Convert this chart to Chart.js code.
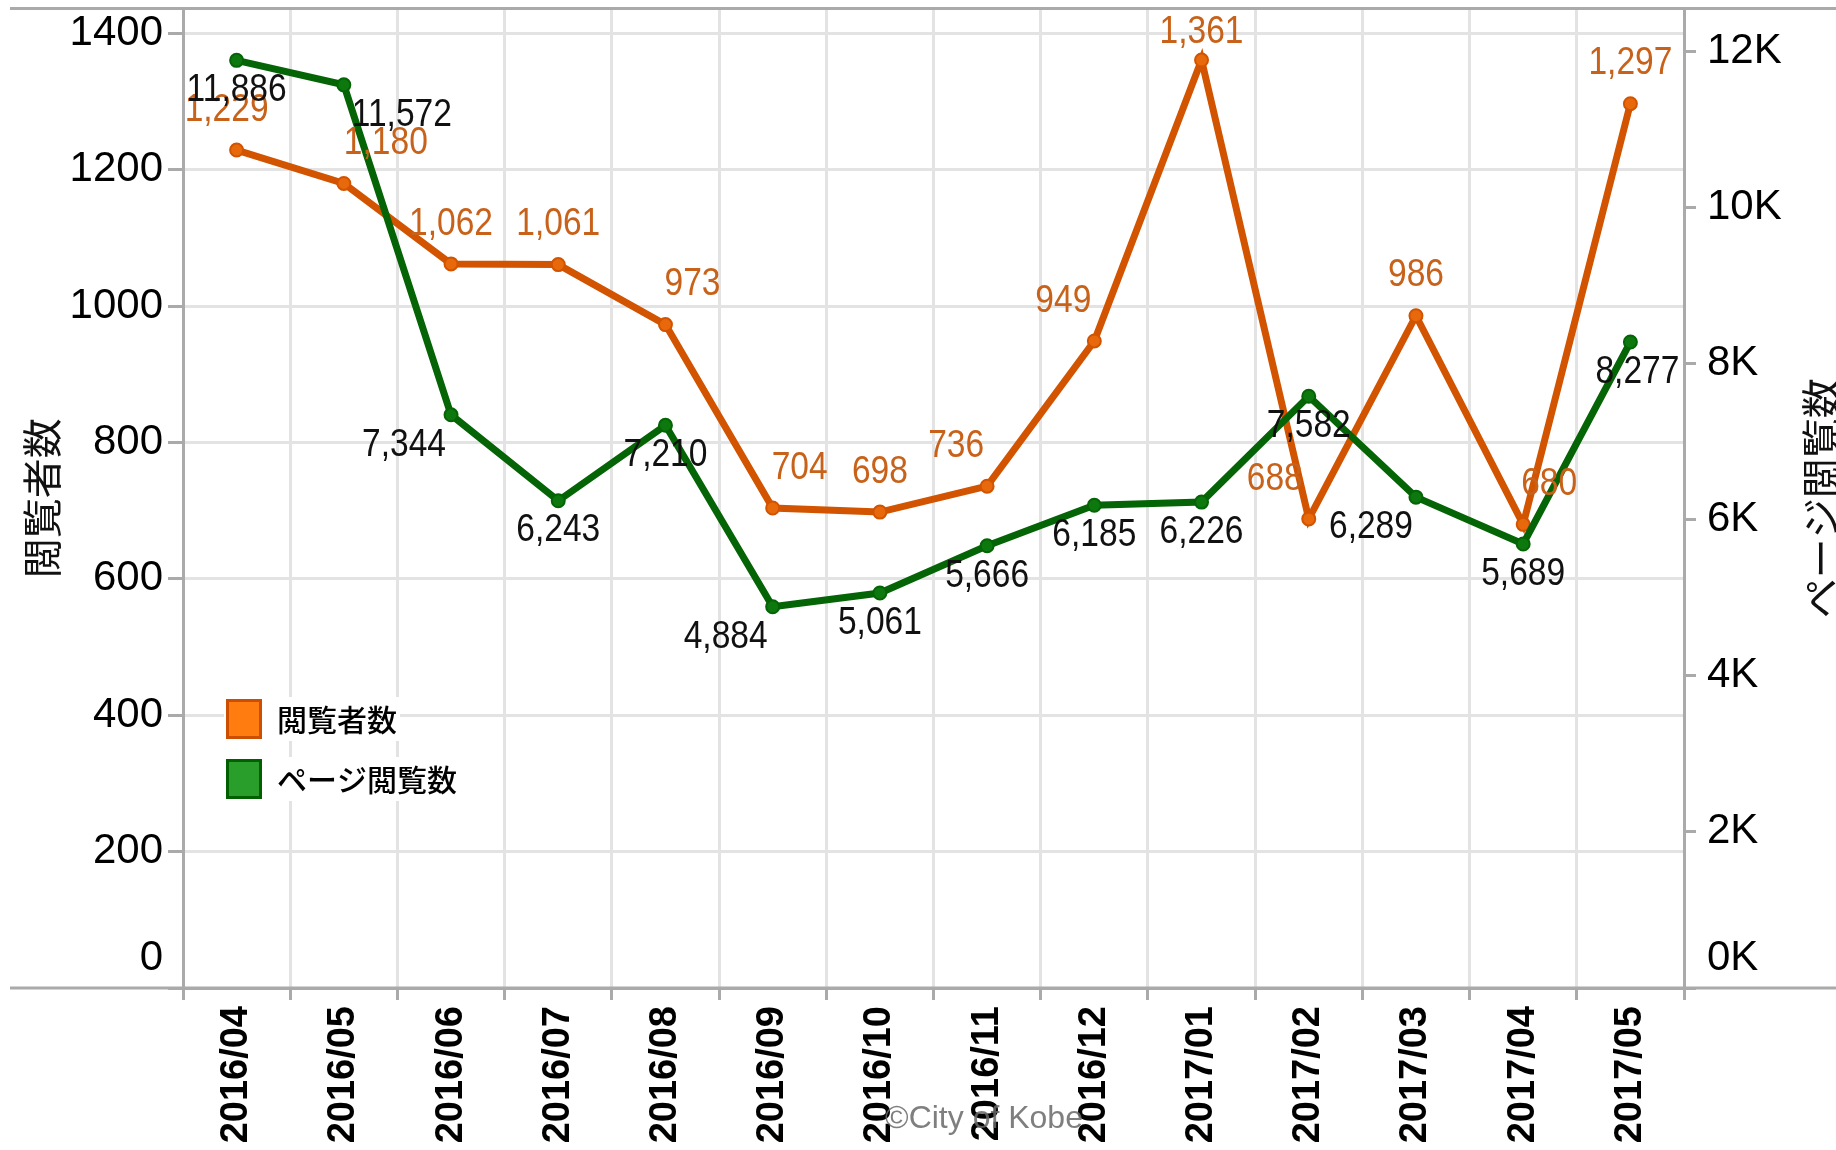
<!DOCTYPE html>
<html lang="ja">
<head>
<meta charset="utf-8">
<title>閲覧者数 / ページ閲覧数</title>
<script src="https://cdn.jsdelivr.net/npm/chart.js@4.4.1/dist/chart.umd.min.js"></script>
<style>
    html, body { margin: 0; padding: 0; background: #fff; }
    #wrap { position: relative; width: 1836px; height: 1150px; }
</style>
</head>
<body>
<div id="wrap"><canvas id="chart"></canvas></div>
<script>
// Data
const months = ['2016/04', '2016/05', '2016/06', '2016/07', '2016/08', '2016/09', '2016/10',
    '2016/11', '2016/12', '2017/01', '2017/02', '2017/03', '2017/04', '2017/05'];
const viewers = [1229, 1180, 1062, 1061, 973, 704, 698, 736, 949, 1361, 688, 986, 680, 1297];
const pageViews = [11886, 11572, 7344, 6243, 7210, 4884, 5061, 5666, 6185, 6226, 7582, 6289, 5689, 8277];
const leftTicks = [0, 200, 400, 600, 800, 1000, 1200, 1400];
const rightTicks = [0, 2000, 4000, 6000, 8000, 10000, 12000];

// Label nudges (px) so the value labels sit where the original puts them
const viewerLabelShift = [-10, 42, 0, 0, 27, 27, 0, -31, -31, 0, -34, 0, 26, 0];
const pageLabelShift = [0, 58, -47, 0, 0, -47, 0, 0, 0, 0, 0, -45, 0, 7];

// Styles
const NUM_FONT = "'Liberation Sans', Arial, sans-serif";
const JP_FONT = "'Noto Sans CJK JP', 'Noto Sans', sans-serif";
const AXIS_GRAY = '#aaaaaa';
const GRID_GRAY = '#e3e3e3';
const ORANGE = '#d25400';
const GREEN = '#056405';

const legendItems = [
    { text: '閲覧者数', fill: '#ff7c10', stroke: '#cc4e00' },
    { text: 'ページ閲覧数', fill: '#2a9e2a', stroke: '#006000' }
];

// Frame lines that run past the plot area (top edge + baseline)
const framePlugin = {
    id: 'frame',
    beforeDatasetsDraw(chart) {
        const { ctx, chartArea: a, width } = chart;
        ctx.save();
        ctx.strokeStyle = AXIS_GRAY;
        ctx.lineWidth = 3;
        ctx.beginPath();
        ctx.moveTo(10, a.top);
        ctx.lineTo(width, a.top);
        ctx.moveTo(10, a.bottom);
        ctx.lineTo(width, a.bottom);
        ctx.stroke();
        ctx.restore();
    }
};

// Value labels next to every point
const valueLabelPlugin = {
    id: 'valueLabels',
    afterDatasetsDraw(chart) {
        const { ctx, chartArea } = chart;
        const specs = [
            { index: 0, color: '#c8621a', shift: viewerLabelShift, dy: -40 },
            { index: 1, color: '#111', shift: pageLabelShift, dy: 30 }
        ];
        specs.forEach(spec => {
            const meta = chart.getDatasetMeta(spec.index);
            const values = chart.data.datasets[spec.index].data;
            ctx.save();
            ctx.font = `39px ${NUM_FONT}`;
            ctx.fillStyle = spec.color;
            ctx.textAlign = 'center';
            ctx.textBaseline = 'middle';
            meta.data.forEach((pt, i) => {
                const x = pt.x + spec.shift[i];
                const y = Math.max(pt.y + spec.dy, chartArea.top + 24);
                ctx.save();
                ctx.translate(x, y);
                ctx.scale(0.86, 1);
                ctx.fillText(values[i].toLocaleString('en-US'), 0, 0);
                ctx.restore();
            });
            ctx.restore();
        });
    }
};

// Legend, right-hand title, the lifted zero labels and the watermark
const overlayPlugin = {
    id: 'overlay',
    afterDraw(chart) {
        const { ctx, chartArea: a, scales } = chart;
        ctx.save();

        // legend inside the plot
        legendItems.forEach((item, i) => {
            const x = a.left + 43;
            const y = a.bottom - 289 + i * 60;
            ctx.font = `500 30px ${JP_FONT}`;
            const w = ctx.measureText(item.text).width;
            ctx.fillStyle = '#fff';
            ctx.fillRect(x - 2, y - 2, 56 + w, 44);
            ctx.fillStyle = item.fill;
            ctx.fillRect(x, y, 36, 40);
            ctx.strokeStyle = item.stroke;
            ctx.lineWidth = 3;
            ctx.strokeRect(x + 1.5, y + 1.5, 33, 37);
            ctx.fillStyle = '#000';
            ctx.textAlign = 'left';
            ctx.textBaseline = 'middle';
            ctx.fillText(item.text, x + 51, y + 21);
        });

        // right axis title, reads bottom to top and runs off the edge
        ctx.save();
        ctx.translate(1821, (a.top + a.bottom) / 2);
        ctx.rotate(-Math.PI / 2);
        ctx.font = `40px ${JP_FONT}`;
        ctx.fillStyle = '#111';
        ctx.textAlign = 'center';
        ctx.textBaseline = 'middle';
        ctx.fillText('ページ閲覧数', 0, 0);
        ctx.restore();

        // zero labels sit above the baseline
        ctx.font = `42px ${NUM_FONT}`;
        ctx.fillStyle = '#000';
        ctx.textBaseline = 'middle';
        const zeroY = scales.y.getPixelForValue(0) - 30;
        ctx.textAlign = 'right';
        ctx.fillText('0', scales.y.right - 20, zeroY);
        ctx.textAlign = 'left';
        ctx.fillText('0K', scales.y1.left + 23, zeroY);

        // watermark
        ctx.font = `32px ${NUM_FONT}`;
        ctx.fillStyle = 'rgba(105, 105, 105, 0.85)';
        ctx.textAlign = 'center';
        ctx.fillText('©City of Kobe', 984, 1119);

        ctx.restore();
    }
};

const ctx = document.getElementById('chart').getContext('2d');
new Chart(ctx, {
    type: 'line',
    data: {
        labels: months,
        datasets: [
            {
                label: '閲覧者数',
                data: viewers,
                yAxisID: 'y',
                order: 2,
                borderColor: ORANGE,
                backgroundColor: ORANGE,
                borderWidth: 7,
                tension: 0,
                pointRadius: 6.5,
                pointBorderWidth: 2,
                pointBackgroundColor: '#e8680c',
                pointBorderColor: ORANGE
            },
            {
                label: 'ページ閲覧数',
                data: pageViews,
                yAxisID: 'y1',
                order: 1,
                borderColor: GREEN,
                backgroundColor: GREEN,
                borderWidth: 7,
                tension: 0,
                pointRadius: 6.5,
                pointBorderWidth: 2,
                pointBackgroundColor: '#0d780d',
                pointBorderColor: GREEN
            }
        ]
    },
    options: {
        responsive: true,
        maintainAspectRatio: false,
        animation: false,
        layout: { padding: { top: 8, left: 10, right: 0, bottom: 0 } },
        plugins: {
            legend: { display: false },
            tooltip: { enabled: false }
        },
        scales: {
            x: {
                offset: true,
                grid: {
                    offset: true,
                    color: GRID_GRAY,
                    lineWidth: 3,
                    tickColor: AXIS_GRAY,
                    tickLength: 12,
                    tickWidth: 3
                },
                border: { color: AXIS_GRAY, width: 3 },
                ticks: {
                    autoSkip: false,
                    minRotation: 90,
                    maxRotation: 90,
                    padding: 6,
                    color: '#000',
                    font: { family: NUM_FONT, size: 38, weight: 'bold' }
                },
                afterFit(s) {
                    s.height = 162;
                    s.paddingLeft = 0;
                    s.paddingRight = 0;
                }
            },
            y: {
                position: 'left',
                min: 0,
                max: 1436.6,
                afterBuildTicks(s) {
                    s.ticks = leftTicks.map(v => ({ value: v }));
                },
                grid: {
                    color: GRID_GRAY,
                    lineWidth: 3,
                    tickColor: AXIS_GRAY,
                    tickLength: 15,
                    tickWidth: 3
                },
                border: { color: AXIS_GRAY, width: 3 },
                ticks: {
                    padding: 5,
                    color: '#000',
                    font: { family: NUM_FONT, size: 42 },
                    callback: v => (v === 0 ? '' : String(v))
                },
                title: {
                    display: true,
                    text: '閲覧者数',
                    color: '#111',
                    padding: { top: 8, bottom: 0 },
                    font: { family: JP_FONT, size: 40 }
                },
                afterFit(s) {
                    s.width = 173;
                    s.paddingTop = 0;
                    s.paddingBottom = 0;
                }
            },
            y1: {
                position: 'right',
                min: 0,
                max: 12550,
                afterBuildTicks(s) {
                    s.ticks = rightTicks.map(v => ({ value: v }));
                },
                grid: {
                    drawOnChartArea: false,
                    tickColor: AXIS_GRAY,
                    tickLength: 12,
                    tickWidth: 3
                },
                border: { color: AXIS_GRAY, width: 3 },
                ticks: {
                    padding: 11,
                    color: '#000',
                    font: { family: NUM_FONT, size: 42 },
                    callback: v => (v === 0 ? '' : `${v / 1000}K`)
                },
                afterFit(s) {
                    s.width = 152;
                    s.paddingTop = 0;
                    s.paddingBottom = 0;
                }
            }
        }
    },
    plugins: [framePlugin, valueLabelPlugin, overlayPlugin]
});
</script>
</body>
</html>
